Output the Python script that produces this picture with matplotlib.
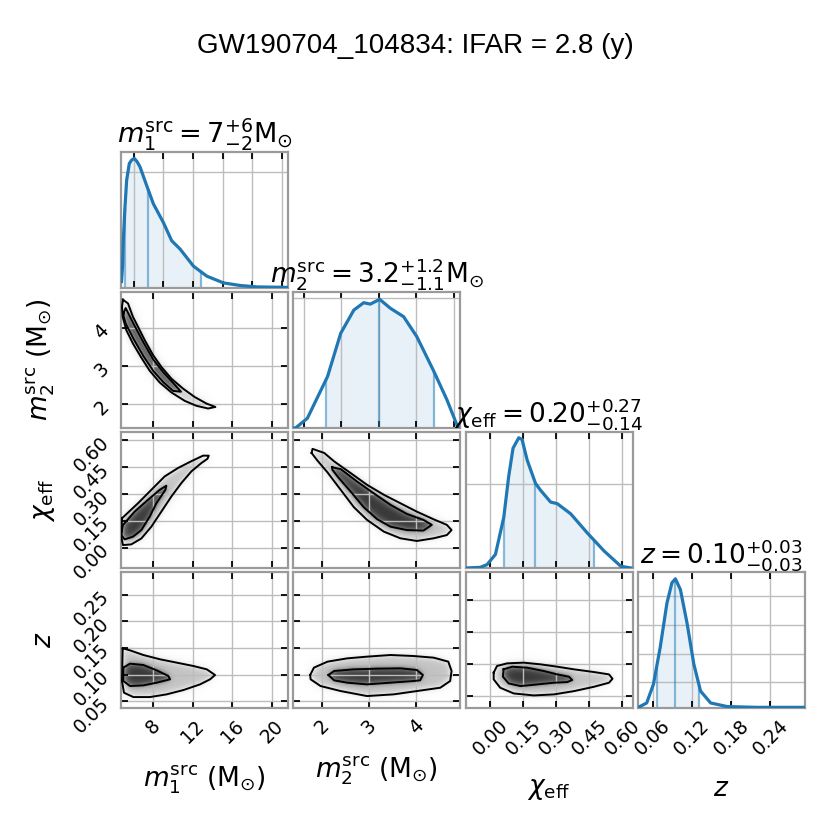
import numpy as np
import matplotlib
matplotlib.use("Agg")
import matplotlib.pyplot as plt
from matplotlib.path import Path

# ---- marginal densities (scaled to peak = 1) ----
m1_grid = [4.78, 4.90, 4.96, 5.13, 5.30, 5.57, 5.81, 6.07, 6.35, 6.65, 7.0, 7.33, 8.0,
           9.01, 9.86, 10.71, 12.05, 13.41, 15.09, 16.78, 18.48, 21.01, 21.65]
m1_pdf = [0.05, 0.18, 0.36, 0.62, 0.83, 0.96, 0.987, 1.0, 0.975, 0.935, 0.86, 0.79, 0.65,
          0.506, 0.364, 0.30, 0.169, 0.091, 0.039, 0.019, 0.008, 0.005, 0.004]

m2_grid = [1.38, 1.43, 1.68, 2.11, 2.39, 2.67, 2.88, 3.02, 3.22, 3.45, 3.73, 4.01, 4.36, 4.65, 4.89, 4.94]
m2_pdf = [0.0, 0.0, 0.075, 0.40, 0.736, 0.917, 0.974, 0.963, 1.0, 0.93, 0.865, 0.71, 0.45, 0.22, 0.0, 0.0]

chi_grid = [-0.107, -0.046, -0.015, 0.023, 0.061, 0.083, 0.103, 0.129, 0.144, 0.167, 0.205,
            0.228, 0.274, 0.304, 0.365, 0.44, 0.517, 0.593, 0.638]
chi_pdf = [0.0, 0.005, 0.026, 0.104, 0.39, 0.70, 0.92, 1.0, 0.987, 0.83, 0.65,
           0.597, 0.506, 0.494, 0.416, 0.27, 0.13, 0.013, 0.0]

z_grid = [0.0364, 0.0379, 0.0507, 0.061, 0.0714, 0.0816, 0.0893, 0.0946, 0.1023, 0.1125,
          0.1228, 0.1331, 0.1486, 0.174, 0.22, 0.2925]
z_pdf = [0.005, 0.005, 0.039, 0.184, 0.471, 0.81, 0.969, 1.0, 0.916, 0.655,
         0.34, 0.131, 0.039, 0.011, 0.005, 0.005]

# 5%, 50%, 95% quantiles
m1_q = [5.13, 7.43, 12.83]
m2_q = [2.08, 3.20, 4.38]
chi_q = [0.061, 0.205, 0.471]
z_q = [0.066, 0.0946, 0.1305]

# ---- 2D credible contours (outer / inner) ----
m1_m2_outer = [(4.93, 4.74), (5.44, 4.64), (5.94, 4.29), (6.45, 4.03), (7.13, 3.68), (7.97, 3.29),
               (8.81, 2.98), (9.83, 2.67), (11.01, 2.41), (12.19, 2.19), (13.37, 2.02), (14.28, 1.93),
               (13.54, 1.89), (12.36, 1.96), (11.18, 2.09), (9.83, 2.31), (8.65, 2.57), (7.63, 2.88),
               (6.79, 3.22), (5.94, 3.59), (5.27, 3.94), (4.90, 4.29), (4.83, 4.55)]
m1_m2_inner = [(5.0, 4.40), (5.2, 4.52), (6.0, 4.11), (7.0, 3.62), (8.0, 3.17), (9.0, 2.84),
               (10.0, 2.56), (10.8, 2.33), (10.0, 2.35), (9.0, 2.58), (8.0, 2.87), (7.0, 3.26),
               (6.0, 3.71), (5.2, 4.12), (5.0, 4.3)]

m1_chi_outer = [(4.83, 0.165), (6.45, 0.249), (7.80, 0.324), (9.15, 0.399), (10.5, 0.446),
                (11.85, 0.484), (13.03, 0.515), (13.61, 0.515), (13.47, 0.497), (12.87, 0.474),
                (11.85, 0.427), (10.84, 0.362), (9.83, 0.287), (8.81, 0.202), (7.80, 0.118),
                (6.79, 0.052), (5.77, 0.019), (4.93, 0.015), (4.76, 0.062)]
m1_chi_inner = [(4.83, 0.099), (4.93, 0.127), (6.11, 0.202), (7.46, 0.268), (8.65, 0.324),
                (9.32, 0.347), (9.22, 0.324), (8.31, 0.249), (7.63, 0.174), (6.79, 0.099),
                (5.94, 0.062), (5.10, 0.047), (4.76, 0.071)]

m2_chi_outer = [(1.77, 0.53), (1.79, 0.553), (2.04, 0.530), (2.25, 0.483), (2.60, 0.418),
                (2.95, 0.352), (3.31, 0.296), (3.66, 0.249), (4.01, 0.202), (4.37, 0.159),
                (4.65, 0.128), (4.75, 0.099), (4.65, 0.071), (4.37, 0.053), (4.01, 0.038),
                (3.66, 0.053), (3.31, 0.090), (2.95, 0.156), (2.67, 0.227), (2.39, 0.324),
                (2.11, 0.421), (1.89, 0.489)]
m2_chi_inner = [(2.21, 0.450), (2.39, 0.440), (2.74, 0.370), (3.09, 0.305), (3.45, 0.240),
                (3.80, 0.189), (4.15, 0.156), (4.33, 0.128), (4.15, 0.096), (3.80, 0.099),
                (3.45, 0.118), (3.17, 0.159), (2.88, 0.227), (2.60, 0.315), (2.35, 0.390),
                (2.21, 0.437)]

m1_z_outer = [(4.90, 0.1494), (5.64, 0.1456), (6.99, 0.1368), (8.68, 0.1287), (10.37, 0.1224),
              (12.05, 0.1161), (13.41, 0.1098), (14.25, 0.0991), (13.74, 0.0910), (12.73, 0.0815),
              (11.04, 0.0708), (9.35, 0.0627), (7.66, 0.0576), (5.98, 0.0576), (5.03, 0.0658),
              (4.83, 0.0878)]
m1_z_inner = [(4.97, 0.1130), (5.64, 0.1205), (6.99, 0.1180), (8.34, 0.1079), (9.52, 0.0973),
              (9.69, 0.0910), (8.34, 0.0847), (6.99, 0.0796), (5.64, 0.0784), (4.97, 0.0878)]

m2_z_outer = [(1.74, 0.0991), (1.82, 0.1130), (2.11, 0.1243), (2.53, 0.1305), (2.95, 0.1337),
              (3.45, 0.1368), (3.94, 0.1349), (4.37, 0.1318), (4.68, 0.1243), (4.75, 0.1067),
              (4.72, 0.0878), (4.51, 0.0752), (4.01, 0.0689), (3.52, 0.0627), (2.95, 0.0595),
              (2.39, 0.0689), (1.96, 0.0784), (1.75, 0.0910)]
m2_z_inner = [(2.13, 0.0991), (2.25, 0.1067), (2.67, 0.1098), (3.17, 0.1111), (3.66, 0.1117),
              (4.01, 0.1086), (4.14, 0.0991), (4.08, 0.0891), (3.94, 0.0878), (3.45, 0.0847),
              (2.95, 0.0815), (2.53, 0.0847), (2.25, 0.0891)]

chi_z_outer = [(0.015, 0.1035), (0.030, 0.1161), (0.076, 0.1211), (0.152, 0.1224), (0.228, 0.1192),
               (0.304, 0.1148), (0.380, 0.1098), (0.471, 0.1047), (0.539, 0.1003), (0.555, 0.0921),
               (0.539, 0.0846), (0.471, 0.0770), (0.380, 0.0688), (0.289, 0.0626), (0.197, 0.0607),
               (0.106, 0.0644), (0.045, 0.0751), (0.015, 0.0909)]
chi_z_inner = [(0.060, 0.1098), (0.099, 0.1148), (0.167, 0.1129), (0.243, 0.1066), (0.304, 0.1003),
               (0.357, 0.0959), (0.372, 0.0896), (0.349, 0.0858), (0.289, 0.0846), (0.213, 0.0814),
               (0.137, 0.0783), (0.083, 0.0833), (0.057, 0.0959)]

# ---- axes setup ----
limits = [(4.73, 21.65), (1.38, 4.94), (-0.113, 0.647), (0.037, 0.293)]
ticks_2d = [[8, 12, 16, 20], [2, 3, 4], [0.0, 0.15, 0.30, 0.45, 0.60], [0.05, 0.10, 0.15, 0.20, 0.25]]
tick_labels = [["8", "12", "16", "20"], ["2", "3", "4"],
               ["0.00", "0.15", "0.30", "0.45", "0.60"], ["0.05", "0.10", "0.15", "0.20", "0.25"]]
z_ticks_alt = [0.06, 0.12, 0.18, 0.24]
z_labels_alt = ["0.06", "0.12", "0.18", "0.24"]
diag_xticks = [[6, 9, 12, 15, 18, 21], [1.6, 2.4, 3.2, 4.0, 4.8],
               [0.0, 0.15, 0.30, 0.45, 0.60], z_ticks_alt]
diag_ytop = [1.049, 1.057, 1.044, 1.052]
diag_ygrid = [[0.896], [1.012], [0.642], [0.202, 0.419, 0.641, 0.863]]

axis_labels = [r"$m_1^{\rm src}$ (M$_{\odot}$)", r"$m_2^{\rm src}$ (M$_{\odot}$)",
               r"$\chi_{\rm eff}$", r"$z$"]
diag_titles = [r"$m_1^{\rm src} = 7^{+6}_{-2}{\rm M}_{\odot}$",
               r"$m_2^{\rm src} = 3.2^{+1.2}_{-1.1}{\rm M}_{\odot}$",
               r"$\chi_{\rm eff} = 0.20^{+0.27}_{-0.14}$",
               r"$z = 0.10^{+0.03}_{-0.03}$"]

grids = [m1_grid, m2_grid, chi_grid, z_grid]
pdfs = [m1_pdf, m2_pdf, chi_pdf, z_pdf]
quants = [m1_q, m2_q, chi_q, z_q]
contours = {(1, 0): (m1_m2_outer, m1_m2_inner), (2, 0): (m1_chi_outer, m1_chi_inner),
            (2, 1): (m2_chi_outer, m2_chi_inner), (3, 0): (m1_z_outer, m1_z_inner),
            (3, 1): (m2_z_outer, m2_z_inner), (3, 2): (chi_z_outer, chi_z_inner)}

BLUE = "#1f77b4"
TICK_FS = 13.5


def blur(img, s):
    k = np.exp(-0.5 * (np.arange(-3 * s, 3 * s + 1) / s) ** 2)
    k /= k.sum()
    img = np.apply_along_axis(lambda r: np.convolve(r, k, mode="same"), 0, img)
    img = np.apply_along_axis(lambda r: np.convolve(r, k, mode="same"), 1, img)
    return img


def shade(ax, outer, inner, xlim, ylim):
    # grey density built from the two contour regions, softened a little
    nx, ny = 170, 140
    xs = np.linspace(xlim[0], xlim[1], nx)
    ys = np.linspace(ylim[0], ylim[1], ny)
    X, Y = np.meshgrid(xs, ys)
    pts = np.column_stack([X.ravel(), Y.ravel()])
    m_out = Path(outer).contains_points(pts).reshape(ny, nx).astype(float)
    m_in = Path(inner).contains_points(pts).reshape(ny, nx).astype(float)
    img = (0.10 * blur(m_out, 6) + 0.25 * blur(m_out, 3)
           + 0.22 * blur(m_in, 2) + 0.25 * blur(m_in, 4))
    ax.imshow(img, extent=[xlim[0], xlim[1], ylim[0], ylim[1]], origin="lower", aspect="auto",
              cmap="Greys", vmin=0, vmax=1, interpolation="bilinear", zorder=0)
    for poly in (outer, inner):
        p = np.array(poly + [poly[0]])
        ax.plot(p[:, 0], p[:, 1], color="k", lw=1.4, zorder=3)


def style(ax):
    for sp in ax.spines.values():
        sp.set_color("#9a9a9a")
        sp.set_linewidth(1.6)
    ax.grid(True, color="#bdbdbd", lw=1.0)
    ax.tick_params(direction="in", length=5, width=1.3, colors="k", labelsize=TICK_FS, pad=6,
                   top=True, right=True, labelbottom=False, labelleft=False)


fig, axes = plt.subplots(4, 4, figsize=(8.3, 8.3), dpi=100)
plt.subplots_adjust(left=121 / 830, right=805 / 830, bottom=1 - 708 / 830, top=1 - 152 / 830,
                    wspace=0.03, hspace=0.03)

for i in range(4):
    for j in range(4):
        ax = axes[i, j]
        if j > i:
            ax.axis("off")
            continue
        style(ax)
        ax.set_xlim(limits[j])
        if i == j:
            x = np.array(grids[i])
            y = np.array(pdfs[i])
            q = quants[i]
            xf = np.concatenate([[q[0]], x[(x > q[0]) & (x < q[2])], [q[2]]])
            ax.fill_between(xf, np.interp(xf, x, y), color=BLUE, alpha=0.1, lw=0)
            ax.vlines(q, 0, np.interp(q, x, y), color=BLUE, alpha=0.5, lw=1.6)
            ax.plot(x, y, color=BLUE, lw=2.3, zorder=3)
            ax.set_ylim(0, diag_ytop[i])
            ax.set_xticks(diag_xticks[i])
            ax.set_yticks(diag_ygrid[i])
            ax.tick_params(axis="y", length=0, right=False)
            ax.set_title(diag_titles[i], fontsize=19.5 if i == 0 else 19, pad=6)
        else:
            outer, inner = contours[(i, j)]
            shade(ax, outer, inner, limits[j], limits[i])
            ax.set_xlim(limits[j])
            ax.set_ylim(limits[i])
            ax.set_xticks(ticks_2d[j])
            if i == 3 and j == 2:
                ax.set_yticks(z_ticks_alt)
            else:
                ax.set_yticks(ticks_2d[i])
        if i == 3:
            ax.tick_params(axis="x", labelbottom=True, labelrotation=45)
            labels = z_labels_alt if j == 3 else tick_labels[j]
            ax.set_xticklabels(labels, fontsize=TICK_FS)
            ax.set_xlabel(axis_labels[j], fontsize=19, labelpad=12)
        if j == 0 and i > 0:
            ax.tick_params(axis="y", labelleft=True, labelrotation=45)
            ax.set_yticklabels(tick_labels[i], fontsize=TICK_FS)
            ax.set_ylabel(axis_labels[i], fontsize=19, labelpad=9)

fig.align_ylabels(axes[1:, 0])
fig.suptitle("GW190704_104834: IFAR = 2.8 (y)", y=0.96, fontsize=20,
             family=["Liberation Sans", "DejaVu Sans"])

fig.savefig("out.png", dpi=100)
